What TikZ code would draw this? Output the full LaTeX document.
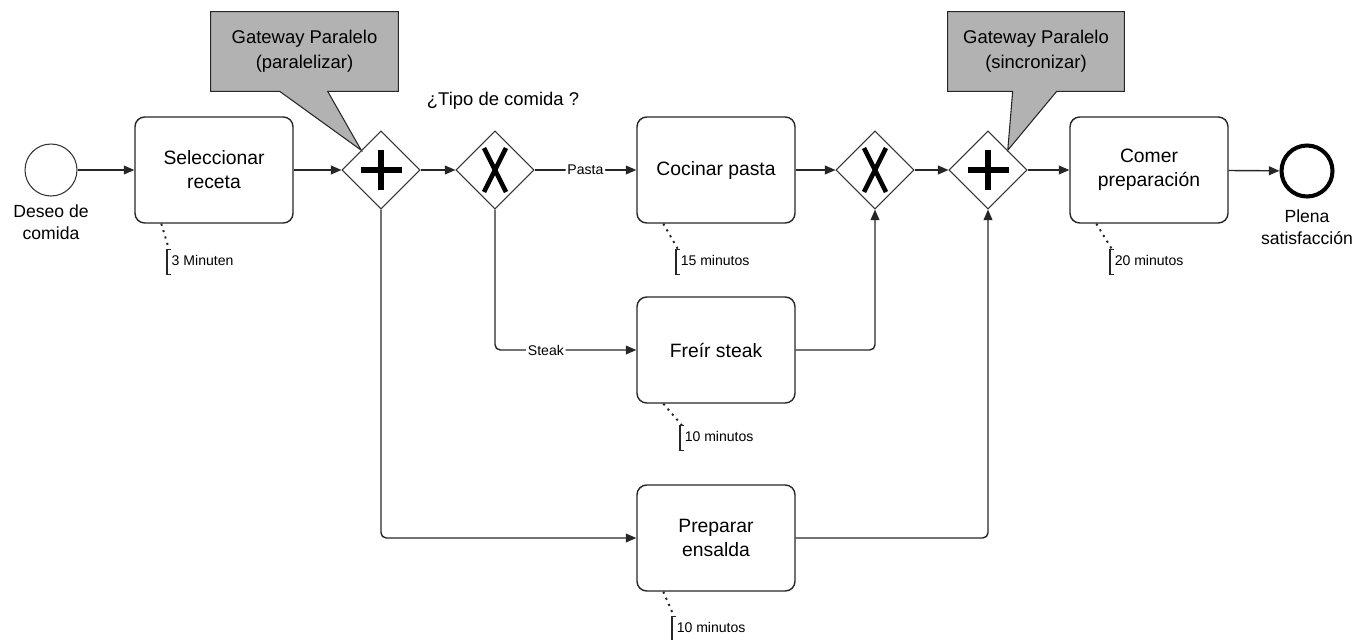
\documentclass[tikz,border=0pt]{standalone}
\usepackage{fontspec}
\setmainfont{Liberation Sans}
\usetikzlibrary{shapes.geometric,arrows.meta,calc,backgrounds}

\tikzset{
  task/.style={draw=black!85, line width=0.8pt, rectangle, rounded corners=5.5pt,
    minimum width=3.16cm, minimum height=2.12cm, align=center,
    font=\fontsize{11}{13.6}\selectfont},
  gw/.style={draw=black!80, line width=0.6pt, diamond, minimum width=1.56cm,
    minimum height=1.56cm, inner sep=0pt},
  pargw/.style={gw, path picture={
    \draw[draw=black, line width=3.2pt] ($(path picture bounding box.center)+(-0.41cm,0)$) -- ++(0.82cm,0);
    \draw[draw=black, line width=3.2pt] ($(path picture bounding box.center)+(0,-0.41cm)$) -- ++(0,0.82cm);}},
  xorgw/.style={gw, path picture={
    \draw[draw=black, line width=2.6pt] ($(path picture bounding box.center)+(-0.22cm,-0.44cm)$) -- ++(0.44cm,0.88cm);
    \draw[draw=black, line width=2.6pt] ($(path picture bounding box.center)+(-0.22cm,0.44cm)$) -- ++(0.44cm,-0.88cm);}},
  startev/.style={circle, draw=black!80, line width=0.6pt, minimum size=1.04cm, inner sep=0pt},
  endev/.style={circle, draw=black, line width=2.3pt, minimum size=1.02cm, inner sep=0pt},
  evlabel/.style={align=center, font=\fontsize{10}{12.5}\selectfont, inner sep=0pt},
  flow/.style={draw=black!85, line width=0.8pt, rounded corners=3pt,
    -{Triangle[length=6pt,width=5pt]}},
  lbl/.style={fill=white, inner sep=1pt, font=\fontsize{8}{9}\selectfont},
  note/.style={anchor=west, inner xsep=2.5pt, inner ysep=3pt, text height=6pt,
    text depth=2pt, font=\fontsize{8}{9}\selectfont},
  notelink/.style={draw=black!85, line width=1.1pt, dash pattern=on 1.2pt off 2.6pt},
  bracket/.style={draw=black!85, line width=0.6pt},
  callout/.style={align=center, font=\fontsize{10.5}{14}\selectfont, inner sep=0pt},
  calloutshape/.style={fill=black!30, draw=black!85, line width=0.6pt}
}

\begin{document}
\begin{tikzpicture}[x=0.02cm, y=-0.02cm]
\useasboundingbox (0,0) rectangle (1368,639);

% events
\node[startev] (s) at (51,170) {};
\node[evlabel] (sl) at (51,222) {Deseo de\\comida};
\node[endev] (e) at (1307,171) {};
\node[evlabel] (el) at (1307,227) {Plena\\satisfacción};

% tasks
\node[task] (t1) at (214,170) {Seleccionar\\receta};
\node[task] (t2) at (716,170) {Cocinar pasta};
\node[task] (t3) at (716,350) {Freír steak};
\node[task] (t4) at (716,538) {Preparar\\ensalda};
\node[task] (t5) at (1149,170) {Comer\\preparación};

% gateways
\node[pargw] (pg1) at (381,170) {};
\node[xorgw] (x1) at (495,170) {};
\node[xorgw] (x2) at (875,170) {};
\node[pargw] (pg2) at (988,170) {};

\node[font=\fontsize{10.5}{12}\selectfont] (q) at (503,101) {¿Tipo de comida ?};

% sequence flows
\draw[flow] (s) -- (t1);
\draw[flow] (t1) -- (pg1);
\draw[flow] (pg1) -- (x1);
\draw[flow] (x1) -- node[lbl] {Pasta} (t2);
\draw[flow] (x1) |- node[lbl, pos=0.68] {Steak} (t3);
\draw[flow] (t2) -- (x2);
\draw[flow] (t3) -| (x2);
\draw[flow] (x2) -- (pg2);
\draw[flow] (pg2) -- (t5);
\draw[flow] (t5) -- (e);
\draw[flow] (pg1) |- (t4);
\draw[flow] (t4) -| (pg2);

% duration annotations
\node[note] (n1) at (167,262) {3 Minuten};
\node[note] (n2) at (676,262) {15 minutos};
\node[note] (n3) at (680,438) {10 minutos};
\node[note] (n4) at (672,629) {10 minutos};
\node[note] (n5) at (1110,262) {20 minutos};
\foreach \t/\n in {t1/n1, t2/n2, t3/n3, t4/n4, t5/n5} {
  \draw[notelink] ($(\t.south west)+(27,0)$) -- ($(\n.north west)+(2,0)$);
  \draw[bracket] ($(\n.north west)+(4,0)$) -- (\n.north west) -- (\n.south west) -- ++(4,0);
}

% callouts
\node[callout, minimum width=3.74cm, minimum height=1.58cm] (c1) at (304.5,51.5)
  {Gateway Paralelo\\(paralelizar)};
\node[callout, minimum width=3.52cm, minimum height=1.58cm] (c2) at (1036,51.5)
  {Gateway Paralelo\\(sincronizar)};
\begin{scope}[on background layer]
  \path[calloutshape] (c1.north west) -- (c1.north east) -- (c1.south east)
    -- ($(c1.south west)+(117,0)$) -- (pg1.north west)
    -- ($(c1.south west)+(69,0)$) -- (c1.south west) -- cycle;
  \path[calloutshape] (c2.north west) -- (c2.north east) -- (c2.south east)
    -- ($(c2.south west)+(109,0)$) -- (pg2.north east)
    -- ($(c2.south west)+(65,0)$) -- (c2.south west) -- cycle;
\end{scope}
\end{tikzpicture}
\end{document}
